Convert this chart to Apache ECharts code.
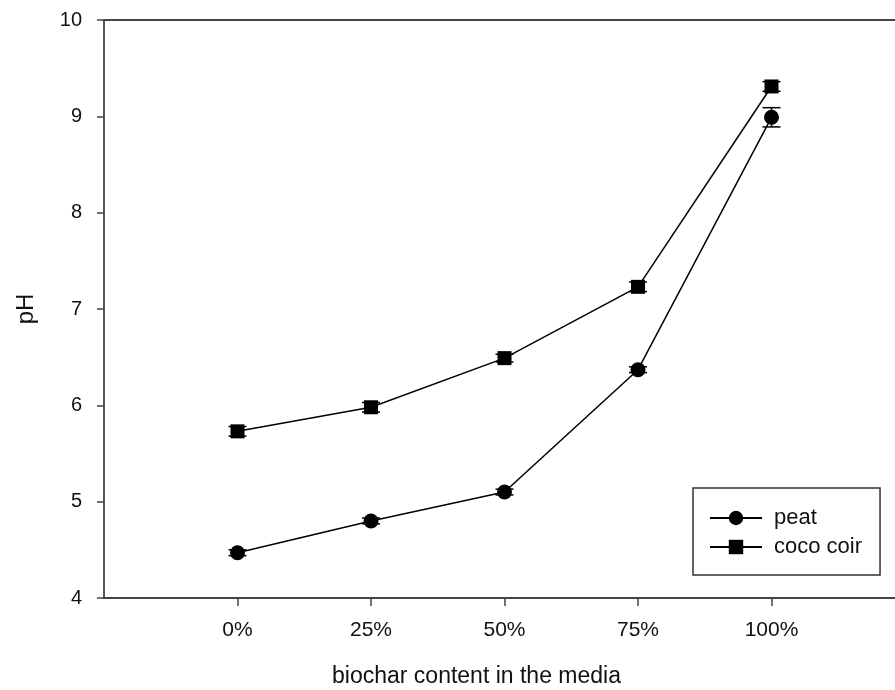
<!DOCTYPE html>
<html>
<head>
<meta charset="utf-8">
<script src="https://cdn.jsdelivr.net/npm/echarts@6/dist/echarts.min.js"></script>
<style>html,body{margin:0;padding:0;background:#fff}#c{width:895px;height:690px}</style>
</head>
<body>
<div id="c"></div>
<script>
var categories = ['0%', '25%', '50%', '75%', '100%'];
var peat = [4.47, 4.80, 5.10, 6.37, 8.99];
var peatErr = [0.03, 0.03, 0.03, 0.03, 0.10];
var coco = [5.73, 5.98, 6.49, 7.23, 9.31];
var cocoErr = [0.05, 0.05, 0.04, 0.05, 0.05];
var yTicks = [4, 5, 6, 7, 8, 9, 10];

function pts(vals) { return vals.map(function (v, i) { return [i, v]; }); }
function errData(vals, errs) { return vals.map(function (v, i) { return [i, v - errs[i], v + errs[i]]; }); }

function errRender(params, api) {
  var x = api.value(0);
  var lo = api.coord([x, api.value(1)]);
  var hi = api.coord([x, api.value(2)]);
  var w = 9;
  var st = { stroke: '#000', lineWidth: 1.5 };
  return {
    type: 'group',
    children: [
      { type: 'line', shape: { x1: lo[0], y1: lo[1], x2: hi[0], y2: hi[1] }, style: st },
      { type: 'line', shape: { x1: lo[0] - w, y1: lo[1], x2: lo[0] + w, y2: lo[1] }, style: st },
      { type: 'line', shape: { x1: hi[0] - w, y1: hi[1], x2: hi[0] + w, y2: hi[1] }, style: st }
    ]
  };
}

var chart = echarts.init(document.getElementById('c'));
var font = 'Liberation Sans, Arial, sans-serif';
var axisCol = '#444';
chart.setOption({
  animation: false,
  backgroundColor: '#fff',
  grid: { left: 104, top: 20, right: 0, bottom: 92, show: false, containLabel: false, outerBoundsMode: 'none' },
  xAxis: [{
    type: 'value', min: -1, max: 4.925, interval: 1,
    name: 'biochar content in the media', nameLocation: 'middle', nameGap: 67,
    nameTextStyle: { fontSize: 23, color: '#111', fontFamily: font, padding: [0, 46, 0, 0] },
    axisLine: { show: true, onZero: false, lineStyle: { color: axisCol, width: 1.8 } },
    axisTick: { show: true, inside: false, length: 8, customValues: [0, 1, 2, 3, 4], lineStyle: { color: axisCol, width: 1.5 } },
    axisLabel: { customValues: [0, 1, 2, 3, 4], margin: 22, fontSize: 21, color: '#111', fontFamily: font,
      formatter: function (v) { return categories[Math.round(v)]; } },
    splitLine: { show: false }
  }, {
    type: 'value', position: 'top', min: -1, max: 4.925,
    axisLine: { show: true, onZero: false, lineStyle: { color: axisCol, width: 1.8 } },
    axisTick: { show: false }, axisLabel: { show: false }, splitLine: { show: false }
  }],
  yAxis: {
    type: 'value', min: 4, max: 10, interval: 1,
    name: 'pH', nameLocation: 'middle', nameGap: 66, nameRotate: 90,
    nameTextStyle: { fontSize: 24, color: '#111', fontFamily: font },
    axisLine: { show: true, onZero: false, lineStyle: { color: axisCol, width: 1.8 } },
    axisTick: { show: true, inside: false, length: 7, lineStyle: { color: axisCol, width: 1.5 } },
    axisLabel: { margin: 22, fontSize: 20, color: '#111', fontFamily: font,
      formatter: function (v) { return yTicks.indexOf(v) >= 0 ? String(v) : ''; } },
    splitLine: { show: false }
  },
  legend: {
    orient: 'vertical', left: 693, top: 488,
    data: ['peat', 'coco coir'],
    itemWidth: 52, itemHeight: 18, itemGap: 7,
    padding: [19, 18, 17, 16],
    borderColor: '#333', borderWidth: 1.5, backgroundColor: '#fff',
    textStyle: { fontSize: 22, color: '#111', fontFamily: font, padding: [0, 0, 0, 7] }
  },
  series: [
    { name: 'peat', type: 'line', xAxisIndex: 0, data: pts(peat), symbol: 'circle', symbolSize: 15,
      itemStyle: { color: '#000' }, lineStyle: { color: '#000', width: 1.5 }, z: 3 },
    { name: 'coco coir', type: 'line', xAxisIndex: 0, data: pts(coco), symbol: 'rect', symbolSize: 14,
      itemStyle: { color: '#000' }, lineStyle: { color: '#000', width: 1.5 }, z: 3 },
    { type: 'custom', xAxisIndex: 0, renderItem: errRender, data: errData(peat, peatErr), z: 4, encode: { x: 0, y: [1, 2] } },
    { type: 'custom', xAxisIndex: 0, renderItem: errRender, data: errData(coco, cocoErr), z: 4, encode: { x: 0, y: [1, 2] } }
  ]
});
</script>
</body>
</html>
